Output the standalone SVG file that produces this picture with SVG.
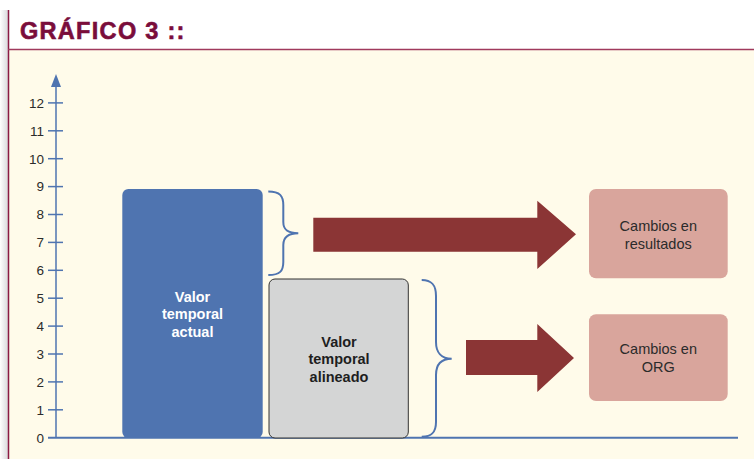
<svg xmlns="http://www.w3.org/2000/svg" width="754" height="459" viewBox="0 0 754 459">
  <defs>
    <linearGradient id="shade" x1="0" y1="0" x2="1" y2="0">
      <stop offset="0" stop-color="#ffffff"/>
      <stop offset="1" stop-color="#d9d9dc"/>
    </linearGradient>
    <style>
      .tick { stroke: #4f74b0; stroke-width: 1.5; }
      .ylab { font-family: "Liberation Sans", Arial, sans-serif; font-size: 13.5px; fill: #2b2b2b; text-anchor: end; }
      .brace { fill: none; stroke: #4f74b0; stroke-width: 2; }
      .arrow { fill: #8b3535; }
      .out rect { fill: #d9a59c; }
      .out text { font-family: "Liberation Sans", Arial, sans-serif; font-size: 14.5px; fill: #2b2b2b; text-anchor: middle; }
      .bar text { font-family: "Liberation Sans", Arial, sans-serif; font-size: 14.5px; font-weight: bold; text-anchor: middle; }
    </style>
  </defs>

  <!-- page background and frame -->
  <rect x="0" y="0" width="754" height="459" fill="#ffffff"/>
  <rect x="0" y="10" width="8" height="449" fill="url(#shade)"/>
  <rect x="9" y="50" width="745" height="409" fill="#fffbea"/>
  <line x1="8.5" y1="10" x2="8.5" y2="459" stroke="#8b1a44" stroke-width="1.5"/>
  <line x1="8" y1="49.5" x2="754" y2="49.5" stroke="#a03a5c" stroke-width="1.5"/>
  <text x="20" y="38.5" font-family="'Liberation Sans', Arial, sans-serif" font-size="23.5" font-weight="bold" letter-spacing="1.3" stroke="#7a0d3b" stroke-width="0.6" fill="#7a0d3b">GRÁFICO 3 ::</text>

  <!-- axes -->
  <g id="axes">
    <line x1="56" y1="86" x2="56" y2="437.7" class="tick"/>
    <polygon points="56,74 51,87 61,87" fill="#4f74b0"/>
    <line x1="48" y1="437.7" x2="738" y2="437.7" stroke="#4f74b0" stroke-width="2"/>
    <g>
      <line x1="48" y1="409.8" x2="63" y2="409.8" class="tick"/>
      <line x1="48" y1="381.9" x2="63" y2="381.9" class="tick"/>
      <line x1="48" y1="354.0" x2="63" y2="354.0" class="tick"/>
      <line x1="48" y1="326.1" x2="63" y2="326.1" class="tick"/>
      <line x1="48" y1="298.2" x2="63" y2="298.2" class="tick"/>
      <line x1="48" y1="270.3" x2="63" y2="270.3" class="tick"/>
      <line x1="48" y1="242.4" x2="63" y2="242.4" class="tick"/>
      <line x1="48" y1="214.5" x2="63" y2="214.5" class="tick"/>
      <line x1="48" y1="186.6" x2="63" y2="186.6" class="tick"/>
      <line x1="48" y1="158.7" x2="63" y2="158.7" class="tick"/>
      <line x1="48" y1="130.8" x2="63" y2="130.8" class="tick"/>
      <line x1="48" y1="102.9" x2="63" y2="102.9" class="tick"/>
    </g>
    <g>
      <text x="44" y="442.5" class="ylab">0</text>
      <text x="44" y="414.6" class="ylab">1</text>
      <text x="44" y="386.7" class="ylab">2</text>
      <text x="44" y="358.8" class="ylab">3</text>
      <text x="44" y="330.9" class="ylab">4</text>
      <text x="44" y="303.0" class="ylab">5</text>
      <text x="44" y="275.1" class="ylab">6</text>
      <text x="44" y="247.2" class="ylab">7</text>
      <text x="44" y="219.3" class="ylab">8</text>
      <text x="44" y="191.4" class="ylab">9</text>
      <text x="44" y="163.5" class="ylab">10</text>
      <text x="44" y="135.6" class="ylab">11</text>
      <text x="44" y="107.7" class="ylab">12</text>
    </g>
  </g>

  <!-- bars -->
  <g id="actual" class="bar">
    <rect x="122.3" y="189" width="140.4" height="249" rx="6" fill="#4f74b0"/>
    <text x="192.5" y="301.5" fill="#ffffff">Valor</text>
    <text x="192.5" y="319" fill="#ffffff">temporal</text>
    <text x="192.5" y="336.5" fill="#ffffff">actual</text>
  </g>
  <g id="alineado" class="bar">
    <rect x="269" y="279" width="139.3" height="159" rx="6" fill="#d4d5d5" stroke="#333333" stroke-width="1"/>
    <text x="339" y="346.5" fill="#1e1e1e">Valor</text>
    <text x="339" y="364" fill="#1e1e1e">temporal</text>
    <text x="339" y="381.5" fill="#1e1e1e">alineado</text>
  </g>

  <!-- outcomes -->
  <g id="resultados" class="out">
    <rect x="589" y="189" width="138.7" height="89.3" rx="7"/>
    <text x="658.3" y="231">Cambios en</text>
    <text x="658.3" y="248.5">resultados</text>
  </g>
  <g id="org" class="out">
    <rect x="589" y="314.3" width="138.7" height="86.7" rx="7"/>
    <text x="658.3" y="354">Cambios en</text>
    <text x="658.3" y="371.5">ORG</text>
  </g>

  <!-- connectors: braces and block arrows -->
  <g id="connectors">
    <path class="brace" d="M268.3,191.5 C280,191.5 283.3,196 283.3,205 L283.3,222 C283.3,230 288,233.3 298.3,233.3 C288,233.3 283.3,237 283.3,245 L283.3,262 C283.3,271 280,275 268.3,275"/>
    <path class="brace" d="M421.7,280 C432,280 436,285 436,296 L436,342 C436,352 441,358.7 451.7,358.7 C441,358.7 436,365 436,375 L436,422 C436,432 432,436.7 421.7,436.7"/>
    <polygon class="arrow" points="313.3,217.7 537.3,217.7 537.3,200.7 576,234.3 537.3,269 537.3,251.7 313.3,251.7"/>
    <polygon class="arrow" points="466,340 537.3,340 537.3,324 574,358 537.3,392 537.3,375 466,375"/>
  </g>
</svg>
